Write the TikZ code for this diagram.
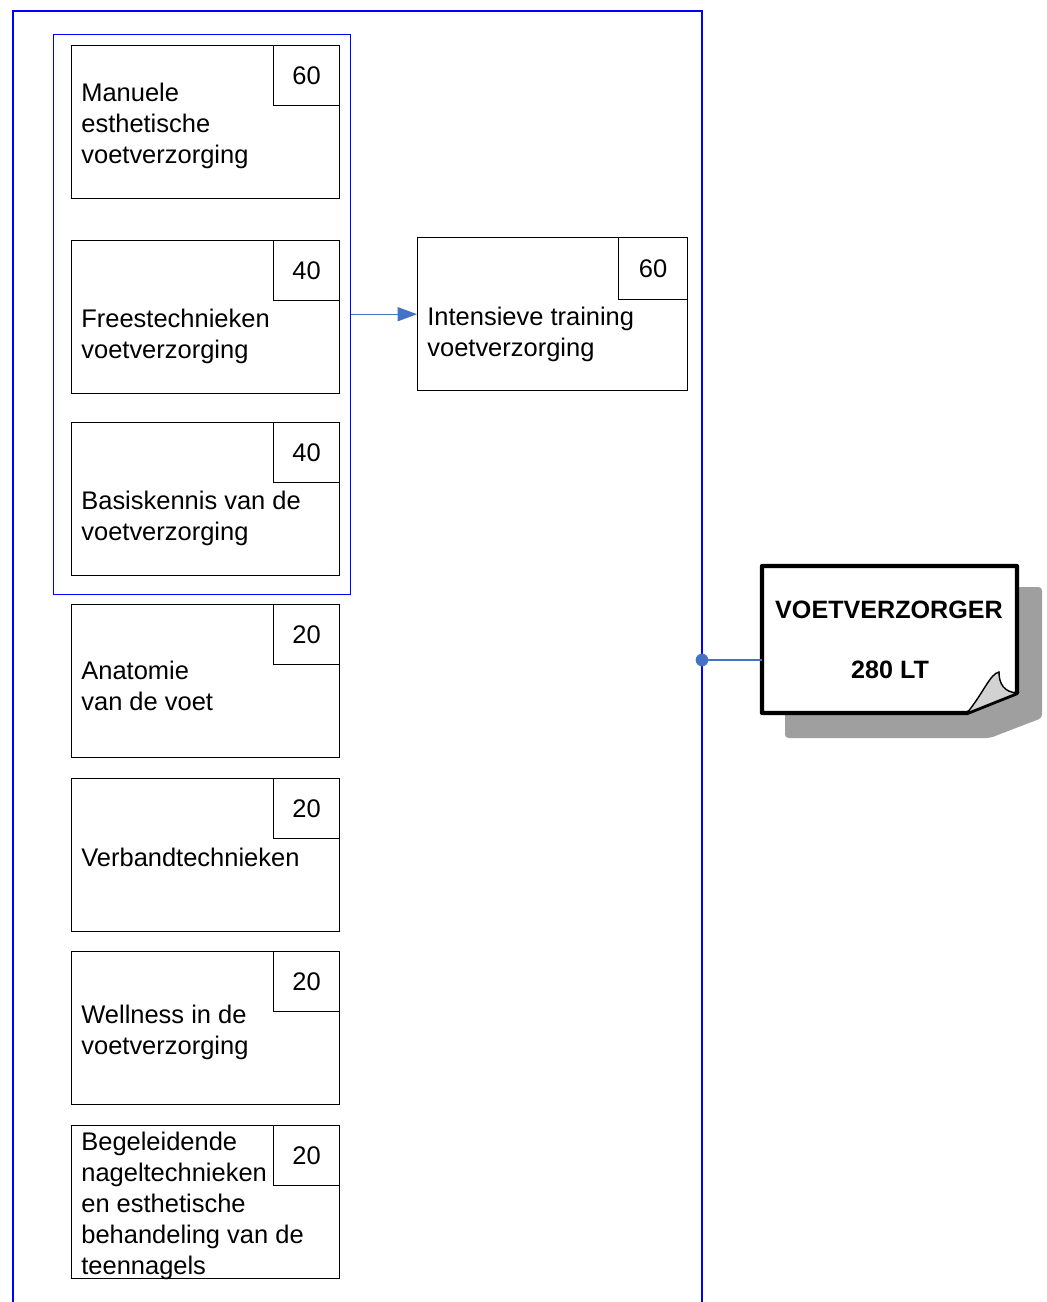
\documentclass[tikz,border=0pt]{standalone}
\usepackage{fontspec}
\setmainfont{Liberation Sans}
\usetikzlibrary{arrows.meta,positioning}

\definecolor{linkblue}{HTML}{4472C4}

\begin{document}
\begin{tikzpicture}[x=0.02cm,y=-0.02cm,
  every node/.style={font=\fontsize{14.5}{17.6}\selectfont},
  module/.style={draw, line width=0.8pt, minimum width=5.36cm, minimum height=3.06cm, anchor=north west, inner sep=0},
  hours/.style={draw, line width=0.8pt, minimum width=1.32cm, minimum height=1.2cm, anchor=north east, inner sep=0},
  title/.style={anchor=west, align=left, inner sep=0}]
  \useasboundingbox (0,0) rectangle (1046,1302);

  % Outer frame, open at the bottom
  \draw[blue, line width=1.3pt] (13,1310) -- (13,11) -- (702,11) -- (702,1310);

  % Group of the first three modules
  \node[draw=blue, line width=0.8pt, minimum width=5.94cm, minimum height=11.2cm, anchor=north west, inner sep=0] (core) at (53,34) {};

  % Manuele esthetische voetverzorging
  \node[module] (manual) at (71,45) {};
  \node[hours] (manualhrs) at (manual.north east) {60};
  \node[title] (manualtxt) at (81,126) {Manuele\\esthetische\\voetverzorging};

  % Freestechnieken
  \node[module] (frees) at (71,240) {};
  \node[hours] (freeshrs) at (frees.north east) {40};
  \node[title] (freestxt) at (81,336.5) {Freestechnieken\\voetverzorging};

  % Basiskennis
  \node[module] (basis) at (71,422) {};
  \node[hours] (basishrs) at (basis.north east) {40};
  \node[title] (basistxt) at (81,518) {Basiskennis van de\\voetverzorging};

  % Anatomie
  \node[module] (anat) at (71,604) {};
  \node[hours] (anathrs) at (anat.north east) {20};
  \node[title] (anattxt) at (81,686) {Anatomie\\van de voet};

  % Verbandtechnieken
  \node[module] (verband) at (71,778) {};
  \node[hours] (verbandhrs) at (verband.north east) {20};
  \node[title] (verbandtxt) at (81,857) {Verbandtechnieken};

  % Wellness
  \node[module] (well) at (71,951) {};
  \node[hours] (wellhrs) at (well.north east) {20};
  \node[title] (welltxt) at (81,1032.5) {Wellness in de\\voetverzorging};

  % Begeleidende nageltechnieken
  \node[module] (nagel) at (71,1125) {};
  \node[hours] (nagelhrs) at (nagel.north east) {20};
  \node[title] (nageltxt) at (81,1206) {Begeleidende\\nageltechnieken\\en esthetische\\behandeling van de\\teennagels};

  % Intensieve training
  \node[module, minimum width=5.4cm] (train) at (417,237) {};
  \node[hours, minimum width=1.38cm, minimum height=1.24cm] (trainhrs) at (train.north east) {60};
  \node[title] (traintxt) at (427,334.5) {Intensieve training\\voetverzorging};

  % Group leads to the training
  \draw[linkblue, line width=0.6pt, -{Triangle[length=11pt,width=8pt]}] (core.east |- train.west) -- (train.west);

  % Certificate sheet with shadow and folded corner
  \node[minimum width=5.1cm, minimum height=2.94cm, anchor=north west, inner sep=0] (cert) at (762,566) {};
  \fill[gray!75, rounded corners=2pt] (785,587) -- (1042,587) -- (1042,718) -- (990,738) -- (785,738) -- cycle;
  \draw[line width=2.4pt, line join=round, fill=white] (762,566) -- (1017,566) -- (1017,693) -- (967,713) -- (762,713) -- cycle;
  \draw[line width=0.8pt, fill=gray!35] (967,713) .. controls (984,692) and (990,674) .. (999,672) .. controls (999,684) and (1004,692) .. (1017,693) -- cycle;
  \node[font=\fontsize{14.3}{17}\selectfont\bfseries] (certname) at (889,610) {VOETVERZORGER};
  \node[font=\fontsize{14.3}{17}\selectfont\bfseries] (certlt) at (890,670) {280 LT};

  % Frame linked to the certificate
  \coordinate (tap) at (702,660);
  \draw[linkblue, line width=1.2pt] (tap) -- (tap -| cert.west);
  \fill[linkblue] (tap) circle (3.6pt);
\end{tikzpicture}
\end{document}
